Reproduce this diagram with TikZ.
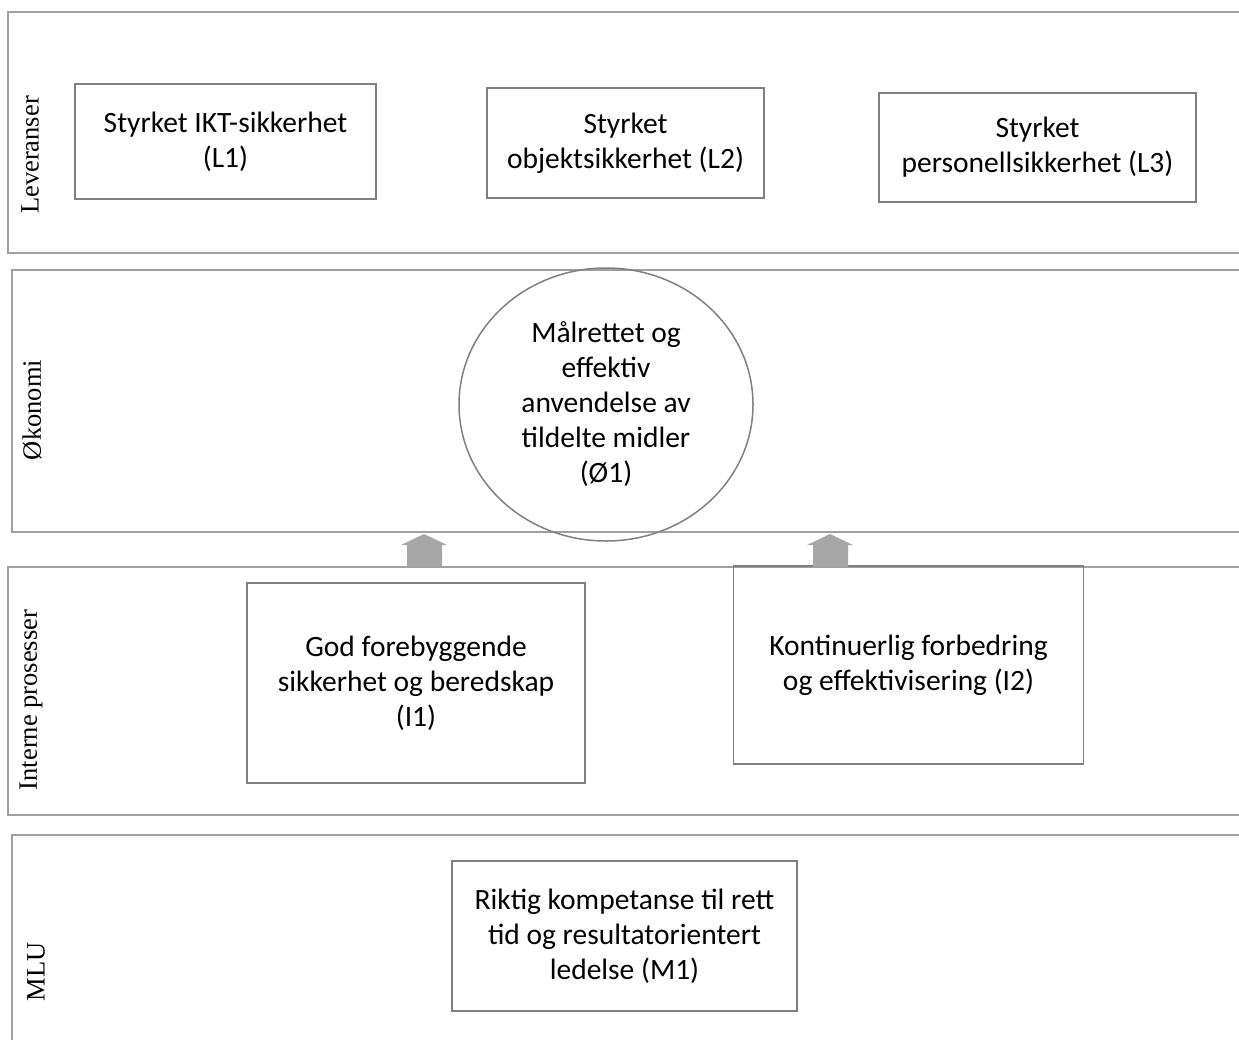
\documentclass[tikz,border=0pt]{standalone}
\usepackage{fontspec}
\usetikzlibrary{shapes.geometric}
\setmainfont{Liberation Serif}
\newfontfamily\boxfont{Carlito}
\definecolor{bandgray}{HTML}{A0A0A0}
\definecolor{boxgray}{HTML}{808080}
\definecolor{arrowgray}{HTML}{A6A6A6}
\tikzset{
    band/.style = {draw = bandgray, line width = 1.3pt},
    bandlabel/.style = {rotate = 90, font = \fontsize{26.5}{30}\selectfont},
    goal/.style = {draw = boxgray, line width = 1.5pt, align = center, inner sep = 0pt,
        font = \boxfont\fontsize{29.5}{35}\selectfont},
    uparrow/.style = {fill = arrowgray}
}
\begin{document}
\begin{tikzpicture}[x = 1pt, y = -1pt]
    \useasboundingbox (0,0) rectangle (1239,1039);
    \fill[white] (0,0) rectangle (1239,1039);
    % perspective bands
    \draw[band] (1260,12) -- (8,12) -- (8,253) -- (1260,253);
    \draw[band] (1260,270) -- (12,270) -- (12,532) -- (1260,532);
    \draw[band] (1260,567) -- (8,567) -- (8,815) -- (1260,815);
    \draw[band] (1260,835) -- (12,835) -- (12,1060);
    \begin{scope}[every node/.append style = bandlabel]
        \node (lev) at (30,155) {Leveranser};
        \node (oko) at (32,410) {Økonomi};
        \node (ip) at (31,700) {Interne prosesser};
        \node (mlu) at (36,972) {MLU};
    \end{scope}
    % deliveries
    \node[goal, minimum width = 301, minimum height = 115] (l1) at (225.5,141.5)
        {Styrket IKT-sikkerhet\\(L1)};
    \node[goal, minimum width = 277, minimum height = 110] (l2) at (625.5,143)
        {Styrket\\objektsikkerhet (L2)};
    \node[goal, minimum width = 317, minimum height = 109] (l3) at (1037.5,147.5)
        {Styrket\\personellsikkerhet (L3)};
    % economy
    \node[goal, ellipse, minimum width = 294, minimum height = 273] (o1) at (606,404.5)
        {Målrettet og\\effektiv\\anvendelse av\\tildelte midler\\(Ø1)};
    % internal processes
    \node[goal, minimum width = 338, minimum height = 200] (i1) at (416,683)
        {God forebyggende\\sikkerhet og beredskap\\(I1)};
    \node[goal, minimum width = 350, minimum height = 198] (i2) at (908.5,665)
        {Kontinuerlig forbedring\\og effektivisering (I2)};
    % learning and growth
    \node[goal, minimum width = 345, minimum height = 150] (m1) at (624.5,936)
        {Riktig kompetanse til rett\\tid og resultatorientert\\ledelse (M1)};
    % block arrows between the bands
    \fill[uparrow] (401,545) -- (424,534) -- (447,545) -- (442,545) -- (442,567)
        -- (407,567) -- (407,545) -- cycle;
    \fill[uparrow] (807,545) -- (830,534) -- (853,545) -- (848,545) -- (848,567)
        -- (813,567) -- (813,545) -- cycle;
\end{tikzpicture}
\end{document}
